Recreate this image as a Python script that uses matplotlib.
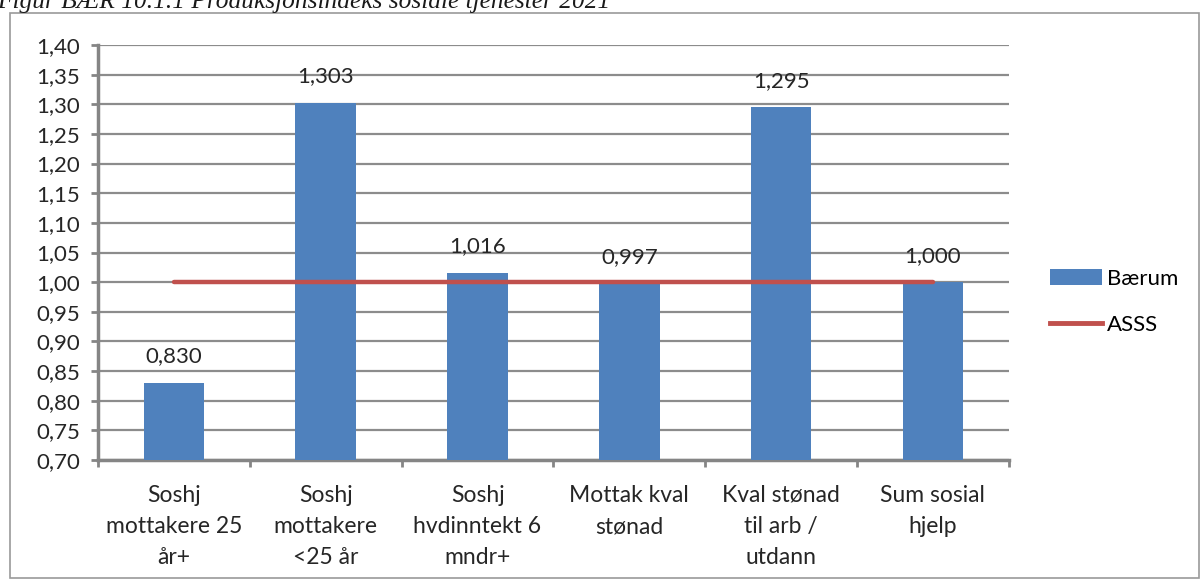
import numpy as np
import matplotlib
matplotlib.use("Agg")
from matplotlib import pyplot as plt
from matplotlib.patches import Rectangle, Patch
from matplotlib.lines import Line2D

# data
categories = ["Soshj\nmottakere 25\når+", "Soshj\nmottakere\n<25 år",
              "Soshj\nhvdinntekt 6\nmndr+", "Mottak kval\nstønad",
              "Kval stønad\ntil arb /\nutdann", "Sum sosial\nhjelp"]
baerum = [0.830, 1.303, 1.016, 0.997, 1.295, 1.000]
asss = [1.0, 1.0, 1.0, 1.0, 1.0, 1.0]
ytick_vals = np.arange(0.70, 1.401, 0.05)

bar_color = "#4F81BD"
line_color = "#C0504D"
grid_color = "#8C8C8C"
axis_color = "#858585"
txt_color = "#262626"

plt.rcParams['font.family'] = ['Lato', 'DejaVu Sans']

fig = plt.figure(figsize=(12.01, 5.81), dpi=100)
ax = fig.add_axes([0.0816, 0.2083, 0.7584, 0.7142])

x = np.arange(len(categories))
ax.bar(x, baerum, width=0.4, color=bar_color, zorder=3)
ax.plot(x, asss, color=line_color, linewidth=3.2, solid_capstyle='round', zorder=4)

# value labels
for xi, v in zip(x, baerum):
    ax.annotate(("%.3f" % v).replace(".", ","), (xi, v), xytext=(0, 19),
                textcoords="offset points", ha="center", va="center",
                fontsize=16, color=txt_color, zorder=5)

ax.set_xlim(-0.5, len(categories) - 0.5)
ax.set_ylim(0.70, 1.40)
ax.set_yticks(ytick_vals)
ax.set_yticklabels([("%.2f" % t).replace(".", ",") for t in ytick_vals])
ax.set_xticks(x)
ax.set_xticklabels(categories, fontsize=16.5, linespacing=1.6, color=txt_color)
ax.set_xticks(np.arange(-0.5, len(categories)), minor=True)
ax.tick_params(axis="x", which="major", length=0, pad=18)
ax.tick_params(axis="x", which="minor", length=5, width=2, color=axis_color)
ax.tick_params(axis="y", length=5, width=2, color=axis_color, labelsize=16,
               labelcolor=txt_color, pad=8)

ax.yaxis.grid(True, color=grid_color, linewidth=1.6, zorder=0)
ax.set_axisbelow(True)
for s in ["top", "right"]:
    ax.spines[s].set_visible(False)
for s in ["left", "bottom"]:
    ax.spines[s].set_color(axis_color)
    ax.spines[s].set_linewidth(2.5)

handles = [Patch(facecolor=bar_color, edgecolor="none"),
           Line2D([0], [0], color=line_color, linewidth=3.5)]
leg = fig.legend(handles, ["Bærum", "ASSS"], loc="upper left",
                 bbox_to_anchor=(0.8577, 0.572), frameon=False, fontsize=16,
                 handlelength=2.35, handleheight=0.72, handletextpad=0.2,
                 labelspacing=1.2)

# outer frame and clipped caption
fig.patches.append(Rectangle((10 / 1201, 3 / 581), 1189 / 1201, 565 / 581,
                             transform=fig.transFigure, fill=False,
                             edgecolor="#9A9A9A", linewidth=1.2))
fig.text(-0.002, 1 - 8 / 581, "Figur BÆR 10.1.1 Produksjonsindeks sosiale tjenester 2021",
         fontsize=18.3, style="italic", family="Liberation Serif", va="baseline",
         ha="left", color="#1a1a1a")

fig.savefig("out.png", dpi=100)
